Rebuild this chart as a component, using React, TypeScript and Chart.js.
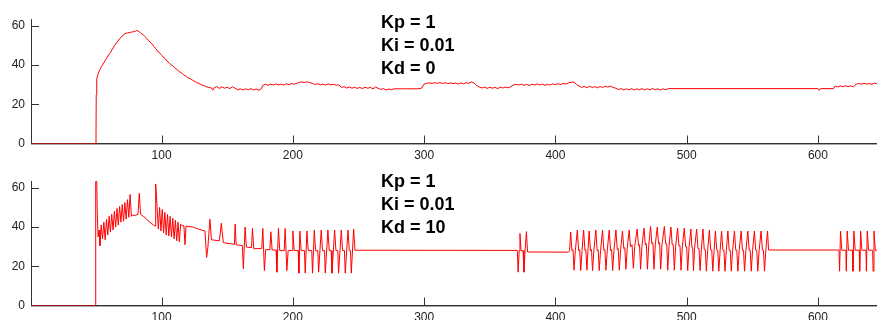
import { useEffect, useRef } from "react";
import { Chart, registerables } from "chart.js";

Chart.register(...registerables);

// ---- data ----
const xTicks = [100, 200, 300, 400, 500, 600];
const yTicks = [0, 20, 40, 60];
const xMin = 0.5;
const xMax = 645;
const yMax = 63.5;

const topLabels = ["Kp = 1", "Ki = 0.01", "Kd = 0"];
const bottomLabels = ["Kp = 1", "Ki = 0.01", "Kd = 10"];

// [time, value] samples (Kd = 0)
const topSeries: [number, number][] = [
  [1, 0], [50, 0], [50.2, 25], [50.6, 33], [51.5, 35.2], [53, 37.8], [54.5, 39.6], [56, 41.2], [58, 43.4],
  [60, 45.6], [61, 46.2], [62, 47.6], [64, 49.8], [66, 51.7], [68, 53.3], [70, 54.9], [71, 55.3], [72, 56.1],
  [74, 56.4], [76, 56.6], [77, 56.9], [78, 56.8], [79, 57.3], [80, 57.2], [81, 57.7], [82, 57.4], [83, 56.9],
  [84, 56.5], [85, 55.9], [86, 55.4], [88, 54.1], [90, 52.6], [92, 51.1], [93, 50.6], [94, 49.4], [96, 48.2],
  [97, 46.9], [98, 46.6], [100, 45], [102, 43.6], [103, 43.1], [104, 42.1], [106, 41], [107, 40.2], [108, 39.9],
  [110, 38.6], [111, 38.1], [112, 37.6], [114, 36.4], [116, 35.6], [117, 34.8], [118, 34.6], [120, 33.5],
  [121, 33.3], [122, 33], [124, 32.1], [126, 31.4], [127, 30.8], [128, 30.8], [130, 30], [132, 29.6], [134, 29],
  [136, 28.6], [138, 28.3], [139, 27.2], [140, 28.4], [142, 29], [144, 28.1], [146, 28.9], [148, 28.2],
  [150, 28.7], [152, 28], [154, 28.9], [156, 28.2], [158, 27.4], [160, 27.9], [162, 27.3], [164, 27.9],
  [166, 27.4], [168, 28], [170, 27.3], [172, 27.8], [174, 27.2], [176, 27.9], [177, 29.6], [179, 30.2],
  [181, 29.7], [183, 30.3], [185, 29.8], [187, 30.4], [189, 29.9], [191, 30.3], [193, 29.8], [195, 30.5],
  [197, 30], [199, 30.6], [201, 30.3], [203, 30.7], [205, 31.2], [207, 31.4], [209, 31.1], [211, 31.5],
  [213, 31], [215, 30.6], [217, 30.1], [219, 30.5], [221, 29.9], [223, 30.3], [225, 29.8], [227, 30.4],
  [229, 29.9], [231, 30.2], [233, 29.7], [235, 29.9], [237, 28.6], [239, 29], [241, 28.3], [243, 28.8],
  [245, 28.2], [247, 28.7], [249, 28.1], [251, 28.6], [253, 28], [255, 28.7], [257, 28.2], [259, 28.6],
  [261, 27.9], [263, 28.8], [265, 28.1], [267, 27.6], [269, 28], [271, 27.3], [273, 27.8], [275, 27.4],
  [277, 27.9], [285, 27.9], [295, 27.9], [298, 28.2], [300, 30.3], [302, 30.7], [304, 30.9], [306, 30.6],
  [308, 31], [310, 30.7], [312, 31.1], [314, 30.6], [316, 31], [318, 30.5], [320, 30.9], [322, 30.6],
  [324, 30.8], [326, 30.3], [328, 30.9], [330, 30.5], [332, 31], [334, 30.7], [336, 31.4], [338, 30.9],
  [340, 29.5], [342, 28.8], [344, 28.3], [346, 28.8], [348, 28.1], [350, 28.7], [352, 28.2], [354, 28.6],
  [356, 28], [358, 28.7], [360, 28.3], [362, 28.8], [364, 28.4], [366, 29], [368, 29.8], [370, 30.2],
  [372, 29.8], [374, 30.3], [376, 29.7], [378, 30.1], [380, 29.6], [382, 30.2], [384, 29.8], [386, 30.4],
  [388, 29.9], [390, 30.3], [392, 29.7], [394, 30.2], [396, 29.8], [398, 30.4], [400, 30], [402, 30.5],
  [404, 30.1], [406, 30.6], [408, 30.3], [410, 30.9], [412, 31.2], [414, 31.4], [416, 30.2], [418, 29.3],
  [420, 28.6], [422, 29.1], [424, 28.5], [426, 29.2], [428, 28.6], [430, 29], [432, 28.4], [434, 29.1],
  [436, 28.6], [438, 29.2], [440, 28.8], [442, 29.3], [444, 28.6], [446, 28.2], [448, 27.5], [450, 28],
  [452, 27.3], [454, 27.9], [456, 27.4], [458, 28], [460, 27.3], [462, 27.9], [464, 27.4], [466, 28],
  [468, 27.3], [470, 27.9], [472, 27.4], [474, 28.1], [476, 27.4], [478, 27.9], [480, 27.3], [482, 27.9],
  [484, 27.4], [486, 28], [600, 28], [601, 27.1], [602, 28], [612, 28], [613, 29.3], [615, 28.8], [617, 29.4],
  [619, 28.9], [621, 29.5], [623, 29], [625, 29.4], [627, 28.9], [629, 30.2], [631, 30.6], [633, 30.3],
  [635, 30.7], [637, 30.3], [639, 30.6], [641, 30.2], [643, 30.8], [645, 30.4],
];

// [time, value] samples (Kd = 10)
const bottomSeries: [number, number][] = [
  [1, 0], [49.6, 0], [49.8, 63.3], [50.6, 63.3], [51, 47], [51.6, 35], [52.4, 38.5], [53, 30.5], [54, 41],
  [55, 34], [56, 42.5], [57, 33.5], [58, 44], [59, 36], [60, 45.5], [61, 37.5], [62, 46.5], [63, 38.5],
  [64, 48], [65, 40], [66, 49.5], [67, 41], [68, 50.5], [69, 42.5], [70, 51.5], [71, 43], [72, 52.5],
  [73, 44], [74, 54], [75, 45], [76, 56.6], [77, 45.5], [78, 46], [80, 46], [82, 46.5], [83, 57.2],
  [84, 46.5], [86, 45.5], [88, 44.5], [90, 43], [92, 42], [94, 41], [95, 40.5], [95.5, 62], [96.5, 51],
  [97.5, 39], [98.5, 50], [99.5, 38], [100.5, 49], [101.5, 37], [102.5, 47.5], [103.5, 36], [104.5, 46.5],
  [105.5, 35.5], [106.5, 45.5], [107.5, 35], [108.5, 44.5], [109.5, 34], [110.5, 43.5], [111.5, 33],
  [112.5, 42.5], [113.5, 32.5], [114.5, 41.5], [115.5, 40.8], [117, 40.6], [117.8, 31], [118.6, 40.5],
  [124, 40], [128, 39], [133, 38], [134.3, 24.5], [135.3, 30], [136.8, 44], [138, 33.5], [144, 33],
  [145.5, 42], [147, 32], [153, 31.5], [155.5, 31.2], [156, 41.5], [156.8, 31], [161.5, 30.5],
  [162.3, 18.7], [163.6, 40], [164.6, 29.8], [168.5, 29.5], [169.2, 39.3], [170.2, 29], [176.3, 29],
  [177.1, 39.3], [178.3, 17.8], [179.3, 28.5], [182.5, 28.5], [183.2, 37.6], [184.2, 28.3], [187.2, 28.3],
  [187.8, 17], [189, 39.3], [190, 28], [193.4, 28], [194.1, 39.3], [195.4, 17.8], [196.4, 28], [199.4, 28],
  [200, 38], [201, 28], [204, 28], [204.6, 16.5], [205.3, 38], [206.3, 28], [208.8, 28], [209.4, 16.5],
  [210.7, 38], [211.7, 28], [214.4, 28], [215, 16.5], [216.3, 38.5], [217.3, 28], [219, 28], [219.6, 17],
  [221.6, 38.5], [222.6, 28], [224.1, 28], [224.7, 16.5], [226.7, 38.5], [227.7, 28], [229.2, 28],
  [229.8, 16.5], [231.8, 38.5], [232.8, 28], [234.2, 28], [234.8, 16.5], [236.9, 38.5], [237.9, 28],
  [239.3, 28], [239.9, 16.5], [242, 38.5], [243, 28], [243.9, 28], [244.5, 16.5], [246.3, 39], [247.3, 28.2],
  [371, 28.1], [371.6, 17], [372.4, 28], [373, 36.7], [373.8, 28], [375.4, 28], [376, 17], [376.9, 28],
  [377.9, 37.7], [378.8, 27.3], [410, 27.2], [410.8, 28],
  [411.6, 37.5], [412.6, 28], [413.4, 28.5], [414.2, 18], [415.2, 28],
  [416.7, 38.5], [417.7, 28], [418.5, 28.5], [419.3, 17.8], [420.3, 28],
  [421.5, 38.5], [422.5, 28.2], [423.2, 28.6], [424, 18], [424.8, 28],
  [425.7, 38], [426.7, 28], [427.5, 28.5], [428.3, 17.8], [429.3, 28],
  [430.8, 38.5], [431.8, 28], [432.6, 28.4], [433.4, 17.8], [434.4, 28],
  [435.9, 38.5], [436.9, 28.2], [437.7, 28.5], [438.5, 18], [439.5, 28],
  [441, 38.5], [442, 28], [442.8, 28.5], [443.6, 17.8], [444.6, 28],
  [446.1, 38.5], [447.1, 28.5], [447.9, 29], [448.7, 18], [449.7, 28.5],
  [451.1, 38], [452.1, 29], [452.9, 29.5], [453.7, 18.5], [454.7, 29],
  [456.2, 38.5], [457.2, 30], [458.4, 31], [459.4, 19], [460.4, 30],
  [462.3, 39], [463.3, 30.5], [464.1, 31], [464.9, 18.5], [465.9, 30],
  [467.5, 39.5], [468.5, 31], [469.3, 31.5], [470.1, 18.5], [471.1, 30.5],
  [472.5, 40.3], [473.5, 31.5], [474.3, 32], [475.1, 18.5], [476.1, 31],
  [477.6, 40], [478.6, 31.5], [479.4, 32], [480.2, 18.5], [481.2, 31],
  [483, 40.3], [484, 31.5], [484.8, 31.5], [485.6, 18], [486.6, 30.5],
  [488, 40], [489, 31], [489.8, 31], [490.6, 18], [491.6, 30],
  [493.1, 39.5], [494.1, 30.5], [494.9, 30.5], [495.7, 18], [496.7, 30],
  [498.2, 39.5], [499.2, 30], [500, 30], [500.8, 17.8], [501.8, 29.5],
  [503.2, 39], [504, 29.5], [504.6, 29.5], [505.2, 17.8], [506, 29],
  [507.6, 39], [508.6, 29], [509.4, 29], [510.2, 17.8], [511.2, 28.5],
  [512.4, 39], [513.4, 28.5], [514.2, 28.5], [515, 17.5], [516, 28],
  [517.3, 38.5], [518.3, 28.3], [519.1, 28.3], [519.9, 17.5], [520.9, 28],
  [521.9, 38], [522.9, 28.2], [523.7, 28.2], [524.5, 17.5], [525.5, 28],
  [526.6, 38], [527.6, 28.2], [528.4, 28.2], [529.2, 17.5], [530.2, 28],
  [531.4, 38], [532.4, 28.2], [533.2, 28.2], [534, 17.5], [535, 28],
  [536.4, 38], [537.4, 28.2], [538.2, 28.2], [539, 17.5], [540, 28],
  [541.5, 38], [542.5, 28.2], [543.3, 28.2], [544.1, 17.5], [545.1, 28],
  [546.6, 38], [547.6, 28.2], [548.4, 28.2], [549.2, 17.5], [550.2, 28],
  [551.6, 38], [552.6, 28.2], [553.4, 28.2], [554.2, 17.5], [555.2, 28],
  [556.7, 38], [557.7, 28.2], [558.5, 28.2], [559.3, 17.5], [560.3, 28],
  [561.6, 38], [562.4, 28.3],
  [616, 28.3], [616.5, 17.5], [617.2, 38], [618.2, 28.2], [621.3, 28.2], [621.6, 17.5], [622.3, 38],
  [623.3, 28.2], [626.4, 28.2], [626.7, 17.5], [627.4, 38], [628.4, 28.2], [631.5, 28.2], [631.8, 17.5],
  [632.5, 38], [633.5, 28.2], [636.6, 28.2], [636.9, 17.5], [637.6, 38], [638.6, 28.2], [641.7, 28.2],
  [642, 17.5], [642.7, 38], [643.7, 28.2], [645, 28.2],
];

// ---- styles ----
const FONT = '"Liberation Sans", Arial, Helvetica, sans-serif';
const LINE_RED = "#ff0000";
const AXIS_DARK = "#333333";
const TICK_TEXT = "#222222";

function makePlugin(lines: string[], textX: number, baselines: number[]) {
  return {
    id: "matlabAxes",
    beforeDatasetsDraw(chart: any) {
      const { ctx, chartArea: a, scales } = chart;
      ctx.save();
      ctx.lineWidth = 1;
      ctx.strokeStyle = AXIS_DARK;
      ctx.beginPath();
      ctx.moveTo(a.left + 0.5, a.top);
      ctx.lineTo(a.left + 0.5, a.bottom);
      ctx.moveTo(a.left, a.bottom);
      ctx.lineTo(a.right, a.bottom);
      for (const v of xTicks) {
        const px = Math.round(scales.x.getPixelForValue(v)) + 0.5;
        ctx.moveTo(px, a.bottom);
        ctx.lineTo(px, a.bottom - 8);
      }
      for (const v of yTicks) {
        const py = Math.round(scales.y.getPixelForValue(v)) + 0.5;
        ctx.moveTo(a.left, py);
        ctx.lineTo(a.left + 8, py);
      }
      ctx.stroke();
      ctx.strokeStyle = "#a8a8a8";
      ctx.beginPath();
      ctx.moveTo(a.left, a.bottom + 1);
      ctx.lineTo(a.right, a.bottom + 1);
      ctx.stroke();
      ctx.restore();
    },
    afterDraw(chart: any) {
      const { ctx } = chart;
      ctx.save();
      ctx.fillStyle = "#000";
      ctx.font = `bold 18px ${FONT}`;
      ctx.textBaseline = "alphabetic";
      ctx.textAlign = "left";
      lines.forEach((t, i) => ctx.fillText(t, textX, baselines[i]));
      ctx.restore();
    },
  };
}

function Plot(props: {
  series: [number, number][];
  labels: string[];
  padTop: number;
  xAxisH: number;
  baselines: number[];
}) {
  const ref = useRef<HTMLCanvasElement>(null);
  useEffect(() => {
    const chart = new Chart(ref.current as HTMLCanvasElement, {
      type: "line",
      data: {
        datasets: [
          {
            data: props.series.map(([x, y]) => ({ x, y })),
            borderColor: LINE_RED,
            borderWidth: 1,
            pointRadius: 0,
            tension: 0,
            fill: false,
          },
        ],
      },
      options: {
        responsive: false,
        animation: false,
        events: [],
        layout: { padding: { top: props.padTop, left: 0, right: 0, bottom: 0 } },
        plugins: { legend: { display: false }, tooltip: { enabled: false }, title: { display: false } },
        scales: {
          x: {
            type: "linear",
            min: xMin,
            max: xMax,
            grid: { display: false, drawTicks: false },
            border: { display: false },
            afterBuildTicks: (s: any) => {
              s.ticks = xTicks.map((v) => ({ value: v }));
            },
            afterFit: (s: any) => {
              s.height = props.xAxisH;
            },
            ticks: {
              padding: 5,
              color: TICK_TEXT,
              font: { family: FONT, size: 12 },
              maxRotation: 0,
              autoSkip: false,
            },
          },
          y: {
            type: "linear",
            min: 0,
            max: yMax,
            grid: { display: false, drawTicks: false },
            border: { display: false },
            afterBuildTicks: (s: any) => {
              s.ticks = yTicks.map((v) => ({ value: v }));
            },
            afterFit: (s: any) => {
              s.width = 31;
            },
            ticks: {
              padding: 6,
              color: TICK_TEXT,
              font: { family: FONT, size: 12 },
            },
          },
        },
      },
      plugins: [makePlugin(props.labels, 381, props.baselines)],
    } as any);
    return () => chart.destroy();
  }, []);
  return (
    <canvas
      ref={ref}
      width={877}
      height={160}
      style={{ display: "block", width: 877, height: 160 }}
    />
  );
}

export default function App() {
  return (
    <div
      style={{
        position: "absolute",
        left: 0,
        top: 0,
        width: 877,
        height: 320,
        background: "#ffffff",
        overflow: "hidden",
      }}
    >
      <Plot series={topSeries} labels={topLabels} padTop={19} xAxisH={16.5} baselines={[28, 51, 74]} />
      <Plot series={bottomSeries} labels={bottomLabels} padTop={21} xAxisH={14.5} baselines={[27, 50, 73]} />
    </div>
  );
}
